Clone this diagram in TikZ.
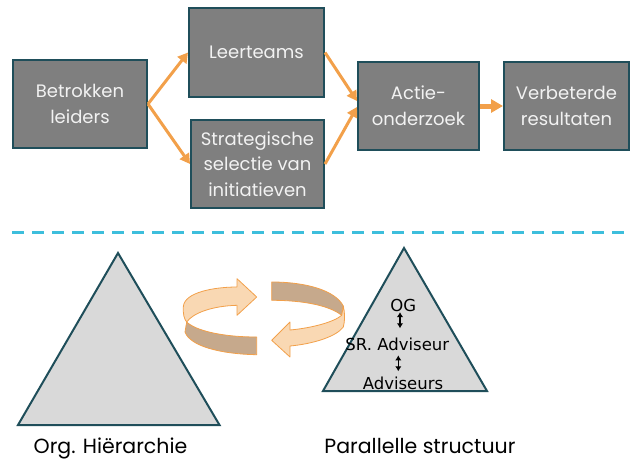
\documentclass[tikz,border=0pt]{standalone}
\usepackage{fontspec}
\setmainfont{Poppins}
\newfontfamily\lvlfamily{DejaVu Sans}
\usetikzlibrary{arrows.meta,positioning,calc}
\definecolor{cBox}{HTML}{7F7F7F}
\definecolor{cBoxEdge}{HTML}{1F4E5A}
\definecolor{cBoxText}{HTML}{F2F2F2}
\definecolor{cFlow}{HTML}{F2A04A}
\definecolor{cSep}{HTML}{3DBEDC}
\definecolor{cTri}{HTML}{D9D9D9}
\definecolor{cRingLight}{HTML}{F9D8B3}
\definecolor{cRingDark}{HTML}{C6A98C}
\newcommand{\boxfont}{\fontsize{18}{25.7}\selectfont}
\newcommand{\lvlfont}{\lvlfamily\fontsize{16.5}{20}\selectfont}
\newcommand{\lblfont}{\fontsize{20.5}{24}\selectfont}

\begin{document}
\begin{tikzpicture}[
  x=1pt, y=-1pt,
  >=Latex,
  box/.style={draw=cBoxEdge, fill=cBox, line width=2pt, align=center,
              text=cBoxText, font=\boxfont, inner sep=0pt, minimum height=88pt},
  flow/.style={-{Triangle[length=10pt,width=11pt]}, line width=3pt, draw=cFlow},
  sep/.style={draw=cSep, line width=3pt, dash pattern=on 12pt off 8pt},
  tri/.style={draw=cBoxEdge, fill=cTri, line width=2pt, line join=miter},
  ring/.style={draw=cFlow, line width=0.8pt, line join=round},
  lvl/.style={font=\lvlfont, inner sep=0pt, anchor=base},
  lbl/.style={font=\lblfont, inner sep=0pt, anchor=base},
  link/.style={{Latex[length=5pt,width=6.5pt]}-{Latex[length=5pt,width=6.5pt]}, line width=1.2pt},
]
\useasboundingbox (0,0) rectangle (631,460);

% ---- top row: the improvement chain ----
\node[box, minimum width=134pt] (lead) at (80,104) {Betrokken\\leiders};
\node[box, minimum width=135pt] (team) at (256.5,52.5) {Leerteams};
\node[box, minimum width=133pt] (sel) at (257.5,164) {Strategische\\selectie van\\initiatieven};
\node[box, minimum width=121pt] (act) at (418.5,106) {Actie-\\onderzoek};
\node[box, minimum width=125pt, right=23pt of act] (res) {Verbeterde\\resultaten};

\draw[flow] (lead.east) -- (team.west);
\draw[flow] (lead.east) -- (sel.west);
\draw[flow] (team.east) -- ([yshift=5pt]act.west);
\draw[flow] (sel.east) -- ([yshift=-1pt]act.west);
\draw[flow, line width=5pt, -{Triangle[length=12pt,width=13pt]}] (act) -- (res);

% ---- separator ----
\draw[sep] (12,232) -- (631,232);

% ---- bottom: hierarchy and parallel structure ----
\draw[tri] (118,253) -- (219.5,425) -- (18,425) -- cycle;
\draw[tri] (404,248) -- (487,391) -- (323,391) -- cycle;

\node[lvl] (og) at (403.3,311.7) {OG};
\node[lvl] (sr) at (397.3,350) {SR. Adviseur};
\node[lvl] (adv) at (403,389) {Adviseurs};
\draw[link, shorten >=9pt] ([xshift=-3.3pt]og.south) -- ([xshift=-3.3pt]og.south |- sr.north);
\draw[link, shorten <=5pt, shorten >=5pt] ([xshift=1pt]sr.south) -- ([xshift=1pt]sr.south |- adv.north);

\node[lbl] (hier) at (110.5,453.3) {Org. Hiërarchie};
\node[lbl] (par) at (420,453.3) {Parallelle structuur};

% ---- circular arrows between the two ----
\filldraw[ring, fill=cRingLight] (237,287) .. controls (215,287) and (184,292) .. (183.3,307)
  .. controls (183,314) and (184,319) .. (186.7,322)
  .. controls (193,313) and (212,306) .. (237,305.3)
  -- (237,315.3) -- (256.7,297) -- (237,278.7) -- cycle;
\filldraw[ring, fill=cRingDark] (186.7,322) .. controls (195,330) and (220,337) .. (256.7,337)
  -- (256.7,354.7) .. controls (220,354) and (190,346) .. (185,332) -- cycle;
\filldraw[ring, fill=cRingDark] (271.7,282) .. controls (305,282) and (335,290) .. (343.3,306)
  -- (341.7,315.3) .. controls (330,306) and (305,300.3) .. (271.7,300.3) -- cycle;
\filldraw[ring, fill=cRingLight] (343.3,306) .. controls (345,313) and (345,321) .. (343.3,327)
  .. controls (336,337) and (312,344) .. (290,346)
  -- (290,357) -- (271.7,340.3) -- (290,322) -- (290,330)
  .. controls (312,328) and (334,322) .. (341.7,315.3) -- cycle;
\end{tikzpicture}
\end{document}
